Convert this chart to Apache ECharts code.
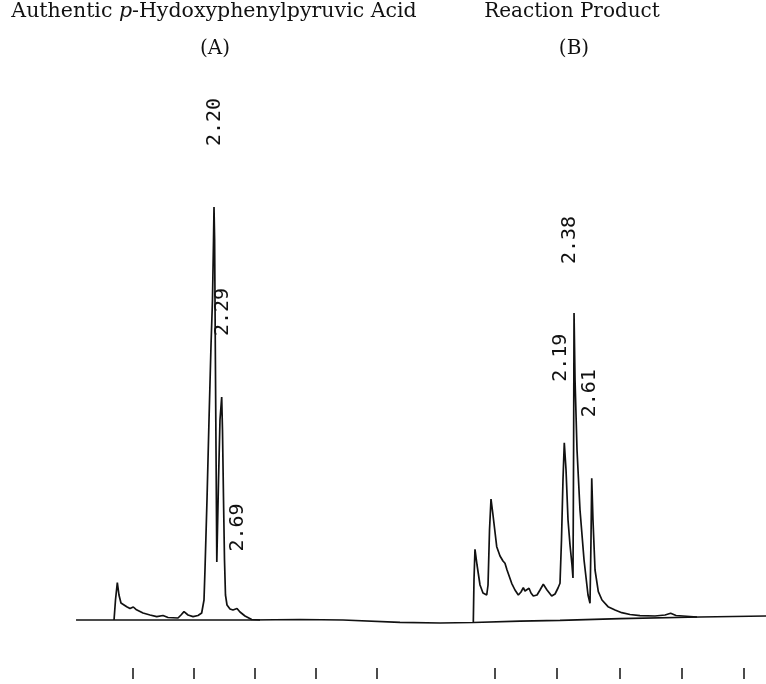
<!DOCTYPE html>
<html>
<head>
<meta charset="utf-8">
<script src="https://cdn.jsdelivr.net/npm/echarts@6/dist/echarts.min.js"></script>
<style>
html,body{margin:0;padding:0;background:#fff;}
#chart{width:766px;height:684px;}
</style>
</head>
<body>
<div id="chart"></div>
<script>
// Chart A: time axis (A), signal units
var baselineA = [[0.066,0],[0.689,0],[2.918,0],[3.738,0.12],[4.443,0],[5.377,-0.58],[6.033,-0.75],[6.574,-0.62],[7.344,-0.3],[8.0,-0.08],[8.984,0.35],[10.295,0.75],[11.377,1.0]];
var traceA = [[0.689,0],[0.713,5.0],[0.743,9.33],[0.770,6.25],[0.803,4.25],[0.897,3.33],[0.951,2.88],[1.005,3.25],[1.049,2.63],[1.164,1.75],[1.279,1.25],[1.389,0.83],[1.492,1.13],[1.574,0.63],[1.738,0.5],[1.787,1.25],[1.836,2.08],[1.902,1.25],[1.984,0.83],[2.066,1.13],[2.126,1.75],[2.164,5.0],[2.180,12.5],[2.213,30],[2.246,50],[2.279,68.75],[2.303,80],[2.320,95],[2.328,103.25],[2.338,95],[2.349,68.75],[2.361,42.5],[2.374,14.5],[2.402,35],[2.426,50],[2.454,55.75],[2.467,47.5],[2.484,30],[2.500,15],[2.516,6.25],[2.541,3.75],[2.590,2.75],[2.639,2.5],[2.705,2.88],[2.754,2.0],[2.836,1.0],[2.946,0.13],[3.082,0]];
var traceB = [[0.649,-0.5],[0.660,10],[0.676,17.68],[0.709,13.75],[0.757,8.75],[0.805,6.75],[0.865,6.25],[0.886,8.75],[0.910,22.5],[0.934,30.25],[0.966,26.25],[1.026,18.33],[1.079,16],[1.127,14.75],[1.159,14.18],[1.192,12.5],[1.267,9.18],[1.320,7.5],[1.374,6.25],[1.417,7.0],[1.454,8.08],[1.481,7.25],[1.509,7.08],[1.546,7.93],[1.578,6.75],[1.615,6.0],[1.675,6.25],[1.723,7.5],[1.776,8.93],[1.836,7.5],[1.911,6.0],[1.965,6.5],[2.013,8.0],[2.045,9.18],[2.069,20],[2.093,35],[2.114,44.33],[2.142,37.5],[2.174,25],[2.206,18.75],[2.238,13.75],[2.254,10.5],[2.264,42.5],[2.271,76.75],[2.287,60],[2.319,42.5],[2.367,27.5],[2.432,15],[2.496,6.25],[2.528,4.18],[2.544,20],[2.556,35.43],[2.576,25],[2.609,12.5],[2.662,7.08],[2.721,5],[2.818,3.33],[2.931,2.5],[3.039,1.83],[3.172,1.38],[3.333,1.08],[3.575,1.0],[3.736,1.25],[3.827,1.68],[3.913,1.13],[4.138,0.88],[4.251,0.75]];
var peakTimesA = [2.328, 2.454, 2.705];
var peakHeightsA = [103.25, 55.75, 2.88];
var peakLabelsA = ['2.20', '2.29', '2.69'];
var peakTimesB = [2.114, 2.271, 2.556];
var peakHeightsB = [44.33, 76.75, 35.43];
var peakLabelsB = ['2.19', '2.38', '2.61'];
var tickMarks = [1, 2, 3, 4, 5];
var titleA = 'Authentic ';
var titleAItalic = 'p';
var titleARest = '-Hydoxyphenylpyruvic Acid';
var subA = '(A)';
var titleB = 'Reaction Product';
var subB = '(B)';

// label placement (style, not data): screen lift above apex and sideways shift, px
var liftA = [85, 85, 81], shiftA = [1, 1, 1];
var liftB = [85, 73, 85], shiftB = [-3, -4, -2];

var chart = echarts.init(document.getElementById('chart'), null, {renderer: 'canvas'});
var ink = '#111';
var lineStyle = {color: ink, width: 1.7};

function marks(times, heights, labels, lift, shift) {
  return times.map(function (t, i) {
    return {
      coord: [t, heights[i]], value: labels[i],
      // label offset is expressed in the rotated (90deg) frame
      label: {offset: [lift[i], shift[i]]}
    };
  });
}
var markLabel = {
  show: true,
  rotate: 90,
  position: 'inside',
  formatter: function (p) { return p.value; },
  align: 'center',
  verticalAlign: 'middle',
  fontFamily: 'DejaVu Sans Mono',
  fontSize: 20,
  color: ink
};

var serif = 'DejaVu Serif';
function tickAxis(min, max) {
  return {type: 'value', min: min, max: max, position: 'bottom', offset: 0,
    axisLine: {show: false, onZero: false}, splitLine: {show: false}, axisLabel: {show: false},
    axisTick: {show: true, inside: false, length: 11, customValues: tickMarks, lineStyle: {color: ink, width: 1.5}}};
}
chart.setOption({
  backgroundColor: '#fff',
  animation: false,
  grid: {left: 72, right: 0, top: 200, bottom: 16},
  xAxis: [tickAxis(0, 11.377), tickAxis(-5.813, 5.362)],
  yAxis: {type: 'value', min: -12, max: 105, show: false},
  series: [
    {type: 'line', xAxisIndex: 0, data: baselineA, showSymbol: false, symbol: 'none', lineStyle: lineStyle, z: 2},
    {type: 'line', xAxisIndex: 0, data: traceA, showSymbol: false, symbol: 'none', lineStyle: lineStyle, z: 3,
     markPoint: {symbol: 'circle', symbolSize: 1, itemStyle: {color: 'rgba(0,0,0,0)'}, label: markLabel,
       data: marks(peakTimesA, peakHeightsA, peakLabelsA, liftA, shiftA)}},
    {type: 'line', xAxisIndex: 1, data: traceB, showSymbol: false, symbol: 'none', lineStyle: lineStyle, z: 3,
     markPoint: {symbol: 'circle', symbolSize: 1, itemStyle: {color: 'rgba(0,0,0,0)'}, label: markLabel,
       data: marks(peakTimesB, peakHeightsB, peakLabelsB, liftB, shiftB)}}
  ],
  graphic: [
    {type: 'text', x: 214, y: 12, style: {
      text: '{n|' + titleA + '}{i|' + titleAItalic + '}{n|' + titleARest + '}',
      textAlign: 'center', textVerticalAlign: 'middle',
      rich: {
        n: {fontFamily: serif, fontSize: 20.5, fill: ink},
        i: {fontFamily: serif, fontSize: 20.5, fontStyle: 'italic', fill: ink}
      }}},
    {type: 'text', x: 215, y: 49, style: {text: subA, textAlign: 'center', textVerticalAlign: 'middle', fontFamily: serif, fontSize: 20, fill: ink}},
    {type: 'text', x: 572, y: 12, style: {text: titleB, textAlign: 'center', textVerticalAlign: 'middle', fontFamily: serif, fontSize: 20, fill: ink}},
    {type: 'text', x: 574, y: 49, style: {text: subB, textAlign: 'center', textVerticalAlign: 'middle', fontFamily: serif, fontSize: 20, fill: ink}}
  ]
});
</script>
</body>
</html>
